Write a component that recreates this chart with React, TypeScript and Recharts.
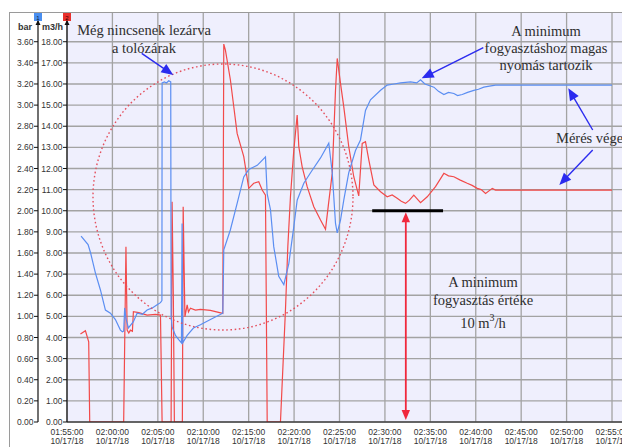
import { LineChart, Line, XAxis, YAxis, CartesianGrid } from 'recharts'

// ─── Layout ───────────────────────────────────────────────────────────────────

const W = 622
const H = 447
const BAR_AXIS_W = 29
const FLOW_AXIS_W = 29
const X_AXIS_H = 25
const OUTER_L = 9
// the bar scale lives in its own strip left of the main chart's m3/h scale
const MARGIN = { top: 13, right: 0, bottom: 0, left: OUTER_L + BAR_AXIS_W }
const STRIP_W = OUTER_L + BAR_AXIS_W + 2

const PLOT_L = MARGIN.left + FLOW_AXIS_W
const PLOT_T = MARGIN.top
const PLOT_W = W - PLOT_L - MARGIN.right
const PLOT_H = H - MARGIN.top - MARGIN.bottom - X_AXIS_H

// minutes after 01:55:00
const T_MAX = 61.1
const FLOW_MAX = 19.36
const BAR_MAX = FLOW_MAX / 5

// ─── Axes ─────────────────────────────────────────────────────────────────────

const timeTicks = [0, 5, 10, 15, 20, 25, 30, 35, 40, 45, 50, 55, 60]
const timeLabels = [
  '01:55:00', '02:00:00', '02:05:00', '02:10:00', '02:15:00', '02:20:00', '02:25:00',
  '02:30:00', '02:35:00', '02:40:00', '02:45:00', '02:50:00', '02:55:00',
]
const dateLabel = '10/17/18'
const barTicks = [0, 0.2, 0.4, 0.6, 0.8, 1, 1.2, 1.4, 1.6, 1.8, 2, 2.2, 2.4, 2.6, 2.8, 3, 3.2, 3.4, 3.6]
const flowTicks = [0, 1, 2, 3, 4, 5, 6, 7, 8, 9, 10, 11, 12, 13, 14, 15, 16, 17, 18]

// ─── Series: [minute, value] ──────────────────────────────────────────────────

// channel 1 – pressure, bar
const pressure: [number, number][] = [
  [1.55, 1.76], [2.32, 1.68], [2.6, 1.6], [3.13, 1.41], [3.68, 1.25], [4.23, 1.06],
  [4.78, 1.03], [5.33, 0.97], [5.88, 0.87], [6.1, 0.855], [6.24, 0.86], [6.35, 1.08],
  [6.49, 0.98], [6.76, 0.89], [7.31, 0.95], [7.72, 1.03], [8.3, 1.02], [8.82, 1.06],
  [9.4, 1.08], [9.92, 1.11], [10.29, 1.13], [10.45, 1.15], [10.47, 3.21], [10.73, 3.22],
  [10.95, 3.21], [11.2, 3.23], [11.42, 3.22], [11.46, 1.0], [11.57, 0.9], [11.94, 0.82],
  [12.3, 0.78], [12.6, 0.75], [12.67, 1.88], [12.74, 0.75], [13.23, 0.82], [13.92, 0.89],
  [14.69, 0.92], [15.79, 0.97], [17.15, 1.03], [17.26, 1.63], [17.99, 1.82], [18.73, 2.07],
  [19.46, 2.32], [20.01, 2.39], [20.94, 2.43], [21.4, 2.47], [21.85, 2.51], [22.04, 2.16],
  [22.4, 2.01], [22.76, 1.66], [23.31, 1.38], [23.87, 1.3], [24.42, 1.5], [24.97, 1.85],
  [25.34, 2.1], [26.07, 2.26], [26.81, 2.36], [27.91, 2.5], [28.82, 2.64], [29.2, 2.36],
  [29.56, 1.88], [29.75, 1.79], [30.11, 1.91], [30.47, 2.1], [31.02, 2.36], [31.76, 2.57],
  [32.31, 2.67], [32.86, 2.95], [33.41, 3.05], [34.52, 3.14], [35.25, 3.19], [36.0, 3.2],
  [36.72, 3.21], [37.82, 3.22], [38.5, 3.21], [38.92, 3.24], [39.4, 3.2], [40.39, 3.17],
  [40.9, 3.13], [41.49, 3.1], [42.0, 3.12], [42.59, 3.11], [43.0, 3.09], [43.51, 3.1],
  [44.1, 3.12], [44.79, 3.14], [45.3, 3.15], [45.89, 3.17], [46.5, 3.18], [47.18, 3.19],
  [60.0, 3.19],
]

// channel 2 – flow, m3/h
const flow: [number, number][] = [
  [1.48, 4.16], [2.03, 4.32], [2.39, 3.8], [2.5, 0], [6.24, 0], [6.49, 8.3],
  [6.62, 4.35], [6.8, 4.21], [6.98, 4.35], [7.2, 4.3], [7.31, 5.22], [7.9, 5.18],
  [8.82, 5.06], [9.74, 5.09], [10.29, 5.06], [10.47, 0], [11.46, 0], [11.57, 10.43],
  [11.71, 5.77], [11.82, 0], [12.7, 0], [12.79, 10.19], [12.98, 4.98], [13.23, 5.54],
  [13.37, 5.21], [13.59, 5.39], [14.14, 5.3], [14.69, 5.33], [15.79, 5.28], [17.15, 5.14],
  [17.26, 17.89], [17.44, 17.6], [17.99, 16.19], [18.36, 14.92], [18.73, 13.66], [19.46, 12.56],
  [20.01, 11.06], [20.56, 11.3], [21.11, 11.37], [21.49, 10.98], [21.85, 10.74], [22.04, 0],
  [23.5, 0], [24.05, 5.3], [24.31, 8.3], [24.6, 10.66], [24.97, 12.87], [25.34, 14.53],
  [25.52, 13.03], [25.89, 12.08], [26.44, 11.14], [27.17, 10.19], [27.91, 9.56], [28.46, 9.12],
  [28.82, 10.43], [29.2, 11.78], [29.56, 15.71], [29.75, 17.21], [30.11, 16.03], [30.47, 14.92],
  [31.02, 13.03], [31.57, 11.61], [32.12, 10.7], [32.5, 13.19], [32.86, 13.27], [33.23, 12.4],
  [33.78, 11.22], [34.52, 10.9], [35.25, 10.66], [35.8, 10.75], [36.35, 10.59], [36.8, 10.45],
  [37.27, 10.35], [37.7, 10.5], [38.18, 10.74], [38.92, 10.38], [39.66, 10.66], [40.57, 11.14],
  [41.49, 11.77], [42.0, 11.65], [42.59, 11.61], [43.3, 11.45], [44.06, 11.3], [44.6, 11.2],
  [45.16, 11.06], [45.6, 11.0], [46.08, 10.82], [46.82, 11.06], [47.18, 10.98], [60.0, 10.98],
]

const pressureData = pressure.map(([t, v]) => ({ t, v }))
const flowData = flow.map(([t, v]) => ({ t, v }))

// ─── Colours ──────────────────────────────────────────────────────────────────

const BLUE = '#5b8ef2'
const RED = '#f24a4a'
const ARROW_BLUE = '#2b2bef'
const ARROW_RED = '#f0283c'
const TEXT = '#2e2e2e'
const SERIF = '"Liberation Serif", "Times New Roman", serif'
const SANS = '"Liberation Sans", Arial, sans-serif'

// data → pixel, for the annotation layer
const px = (t: number) => PLOT_L + (t / T_MAX) * PLOT_W
const py = (flowValue: number) => PLOT_T + PLOT_H - (flowValue / FLOW_MAX) * PLOT_H

const fmt2 = (v: number) => v.toFixed(2)

// ─── Ticks ────────────────────────────────────────────────────────────────────

function TimeTick({ x, y, payload }: any) {
  const i = timeTicks.indexOf(payload.value)
  return (
    <text x={x} y={y} textAnchor="middle" fontSize={8.5} fill="#333" fontFamily={SANS}>
      <tspan x={x} dy={9.7}>{timeLabels[i]}</tspan>
      <tspan x={x} dy={9}>{dateLabel}</tspan>
    </text>
  )
}

// ─── Annotation helpers ───────────────────────────────────────────────────────

function Arrow({ x1, y1, x2, y2, color, width = 1.4, head = 12, both = false }: {
  x1: number; y1: number; x2: number; y2: number; color: string; width?: number; head?: number; both?: boolean
}) {
  const a = Math.atan2(y2 - y1, x2 - x1)
  const hw = head * 0.42
  const tri = (tx: number, ty: number, dir: number) => {
    const bx = tx - dir * head * Math.cos(a)
    const by = ty - dir * head * Math.sin(a)
    return `${tx},${ty} ${bx + hw * Math.sin(a)},${by - hw * Math.cos(a)} ${bx - hw * Math.sin(a)},${by + hw * Math.cos(a)}`
  }
  const sx = both ? x1 + head * 0.8 * Math.cos(a) : x1
  const sy = both ? y1 + head * 0.8 * Math.sin(a) : y1
  return (
    <g>
      <line
        x1={sx} y1={sy}
        x2={x2 - head * 0.8 * Math.cos(a)} y2={y2 - head * 0.8 * Math.sin(a)}
        stroke={color} strokeWidth={width}
      />
      <polygon points={tri(x2, y2, 1)} fill={color} />
      {both && <polygon points={tri(x1, y1, -1)} fill={color} />}
    </g>
  )
}

function Notes() {
  const minT = 37.3
  const barAxisX = OUTER_L + BAR_AXIS_W
  return (
    <svg width={W} height={H} style={{ position: 'absolute', left: 0, top: 0, pointerEvents: 'none' }}>
      {/* frame */}
      <rect x={9.5} y={12.5} width={W} height={H} fill="none" stroke="#9a9a9a" strokeWidth={1} />

      {/* channel markers & axis heads */}
      <rect x={barAxisX - 4} y={13} width={8} height={8} fill="#4a8ff0" />
      <text x={barAxisX} y={19.5} fontSize={6} fill="#123" textAnchor="middle" fontFamily={SANS}>1</text>
      <rect x={PLOT_L - 4} y={13} width={8} height={8} fill="#e8302c" />
      <text x={PLOT_L} y={19.5} fontSize={6} fill="#300" textAnchor="middle" fontFamily={SANS}>2</text>
      <polygon points={`${barAxisX},20 ${barAxisX - 2.5},25 ${barAxisX + 2.5},25`} fill="#111" />
      <polygon points={`${PLOT_L},20 ${PLOT_L - 2.5},25 ${PLOT_L + 2.5},25`} fill="#111" />
      <text x={25} y={30} fontSize={9} fontWeight="bold" fill="#333" textAnchor="middle" fontFamily={SANS}>bar</text>
      <text x={52.5} y={30} fontSize={9} fontWeight="bold" fill="#333" textAnchor="middle" fontFamily={SANS}>m3/h</text>

      {/* dotted ring around the start-up section */}
      <ellipse cx={223} cy={197} rx={130} ry={133} fill="none" stroke="#e4505e" strokeWidth={1.4} strokeDasharray="1.6 2.6" />

      <g fontFamily={SERIF} fontSize={14.5} fill={TEXT} textAnchor="middle">
        <text x={144} y={35}>Még nincsenek lezárva</text>
        <text x={144} y={52.5}>a tolózárak</text>

        <text x={546} y={35.5}>A minimum</text>
        <text x={546} y={52.5}>fogyasztáshoz magas</text>
        <text x={546} y={69.5}>nyomás tartozik</text>

        <text x={556} y={143} textAnchor="start">Mérés vége</text>

        <text x={483} y={286.5}>A minimum</text>
        <text x={483} y={304.5}>fogyasztás értéke</text>
        <text x={483} y={328}>
          10 m<tspan dy={-7} fontSize={10}>3</tspan><tspan dy={7}>/h</tspan>
        </text>
      </g>

      <Arrow x1={141.7} y1={53.3} x2={173.3} y2={75} color={ARROW_BLUE} />
      <Arrow x1={483.3} y1={47.7} x2={421.7} y2={78.3} color={ARROW_BLUE} />
      <Arrow x1={592.7} y1={130} x2={568.3} y2={88.3} color={ARROW_BLUE} />
      <Arrow x1={592.7} y1={150} x2={559.3} y2={185} color={ARROW_BLUE} />

      {/* minimum flow marker */}
      <line x1={px(33.6)} x2={px(41.4)} y1={py(10)} y2={py(10)} stroke="#000" strokeWidth={3} />
      <Arrow x1={px(minT)} y1={py(10) + 1.5} x2={px(minT)} y2={py(0) - 2} color={ARROW_RED} width={1.8} head={10} both />
    </svg>
  )
}

// ─── Chart ────────────────────────────────────────────────────────────────────

const yTick = { fontSize: 8.5, fill: '#333', fontFamily: SANS }
const yTickLine = { stroke: '#111' }
const axisLine = { stroke: '#111', strokeWidth: 1.2 }

export default function App() {
  return (
    <div style={{ position: 'absolute', left: 0, top: 0, width: W, height: H, background: '#fff', overflow: 'hidden' }}>
      <LineChart width={W} height={H} margin={MARGIN}>
        <CartesianGrid
          yAxisId="flow"
          fill="#efeffd"
          stroke="#a3a3a3"
          strokeWidth={1.3}
          horizontalValues={flowTicks}
          verticalValues={timeTicks}
        />
        <XAxis
          dataKey="t"
          type="number"
          domain={[0, T_MAX]}
          ticks={timeTicks}
          allowDataOverflow
          height={X_AXIS_H}
          tick={<TimeTick />}
          tickLine={false}
          tickSize={3}
          tickMargin={0}
          axisLine={axisLine}
          interval={0}
        />
        <YAxis
          yAxisId="flow"
          type="number"
          domain={[0, FLOW_MAX]}
          ticks={flowTicks}
          allowDataOverflow
          width={FLOW_AXIS_W}
          tickFormatter={fmt2}
          tick={yTick}
          tickSize={4}
          tickMargin={0.5}
          tickLine={yTickLine}
          axisLine={axisLine}
          interval={0}
        />
        {/* scales the blue series; its visible scale is drawn in the strip below */}
        <YAxis yAxisId="pressure" type="number" domain={[0, BAR_MAX]} allowDataOverflow hide />
        <Line
          data={flowData}
          dataKey="v"
          yAxisId="flow"
          type="linear"
          stroke={RED}
          strokeWidth={1.2}
          dot={false}
          isAnimationActive={false}
        />
        <Line
          data={pressureData}
          dataKey="v"
          yAxisId="pressure"
          type="linear"
          stroke={BLUE}
          strokeWidth={1.2}
          dot={false}
          isAnimationActive={false}
        />
      </LineChart>

      {/* bar scale, same vertical extent as the main plot */}
      <div style={{ position: 'absolute', left: 0, top: 0 }}>
        <LineChart width={STRIP_W} height={H} margin={{ top: MARGIN.top, right: 0, bottom: X_AXIS_H, left: OUTER_L }}>
          <XAxis dataKey="t" type="number" domain={[0, 1]} hide />
          <YAxis
            yAxisId="pressure"
            type="number"
            domain={[0, BAR_MAX]}
            ticks={barTicks}
            allowDataOverflow
            width={BAR_AXIS_W}
            tickFormatter={fmt2}
            tick={yTick}
            tickSize={4}
            tickMargin={0.5}
            tickLine={yTickLine}
            axisLine={axisLine}
            interval={0}
          />
        </LineChart>
      </div>
      <Notes />
    </div>
  )
}
